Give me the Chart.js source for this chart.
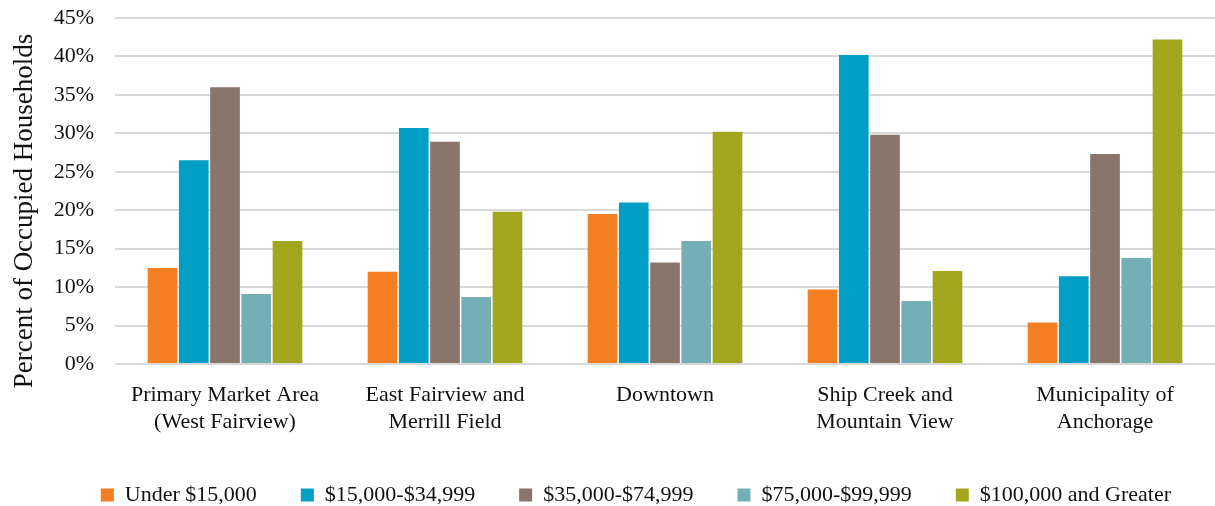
<!DOCTYPE html>
<html>
<head>
<meta charset="utf-8">
<script src="https://cdn.jsdelivr.net/npm/chart.js@4"></script>
<style>
  html, body { margin: 0; padding: 0; background: #fff; }
  #wrap { width: 1215px; height: 506px; }
</style>
</head>
<body>
<div id="wrap"><canvas id="chart"></canvas></div>
<script>
// areas along the x axis
var areas = [
    ["Primary Market Area", "(West Fairview)"],
    ["East Fairview and", "Merrill Field"],
    "Downtown",
    ["Ship Creek and", "Mountain View"],
    ["Municipality of", "Anchorage"]
];

// share of occupied households by income bracket (percent)
var under15k    = [12.5, 12.0, 19.5, 9.7, 5.4];
var from15to35  = [26.5, 30.7, 21.0, 40.2, 11.4];
var from35to75  = [36.0, 28.9, 13.2, 29.8, 27.3];
var from75to100 = [9.1, 8.7, 16.0, 8.2, 13.8];
var over100k    = [16.0, 19.8, 30.2, 12.1, 42.2];

var yTicks = [0, 5, 10, 15, 20, 25, 30, 35, 40, 45];

var serif = "'Liberation Serif', 'DejaVu Serif', serif";
var ink = '#111111';

function serie(label, data, color){
    return {
        label: label,
        data: data,
        backgroundColor: color,
        borderWidth: 0,
        barPercentage: 0.95,
        categoryPercentage: 0.71
    }
}

var ctx = document.getElementById("chart");

chart = new Chart(ctx, {
    type: 'bar',
    data: {
        labels: areas,
        datasets: [
            serie("Under $15,000", under15k, '#F47E22'),
            serie("$15,000-$34,999", from15to35, '#009FC3'),
            serie("$35,000-$74,999", from35to75, '#89756B'),
            serie("$75,000-$99,999", from75to100, '#74AFB7'),
            serie("$100,000 and Greater", over100k, '#A2A61C')
        ]
    },
    options: {
        responsive: true,
        maintainAspectRatio: false,
        animation: false,
        layout: { padding: { top: 0, right: 0, bottom: -4, left: 0 } },
        plugins: {
            tooltip: { enabled: false },
            legend: {
                position: 'bottom',
                align: 'end',
                maxHeight: 70,
                labels: {
                    boxWidth: 13,
                    boxHeight: 13,
                    padding: 44,
                    color: ink,
                    font: { family: serif, size: 22 }
                }
            }
        },
        scales: {
            x: {
                grid: { display: false, drawTicks: false },
                border: { display: false },
                afterFit: function(s){ s.height = 76; },
                ticks: {
                    color: ink,
                    maxRotation: 0,
                    padding: 18,
                    font: { family: serif, size: 22, lineHeight: 1.22 }
                }
            },
            y: {
                min: 0,
                max: 45,
                afterBuildTicks: function(axis){
                    axis.ticks = yTicks.map(v => ({ value: v }));
                },
                // fixed axis width, and keep the top free of the tick padding
                afterFit: function(s){
                    s.width = 115;
                    s.paddingTop = 18;
                    s.paddingBottom = 0;
                    // axis title sits a little below the middle of the plot
                    s.drawTitle = function(){
                        this.ctx.save();
                        this.ctx.translate(0, 20);
                        Chart.Scale.prototype.drawTitle.call(this);
                        this.ctx.restore();
                    };
                },
                grid: { color: '#d9d9d9', lineWidth: 2, drawTicks: false },
                border: { display: false },
                ticks: {
                    color: ink,
                    padding: 21,
                    font: { family: serif, size: 22 },
                    callback: function(v){ return v + '%'; }
                },
                title: {
                    display: true,
                    text: 'Percent of Occupied Households',
                    color: ink,
                    padding: { top: 9, bottom: 0 },
                    font: { family: serif, size: 27 }
                }
            }
        }
    }
});
</script>
</body>
</html>
